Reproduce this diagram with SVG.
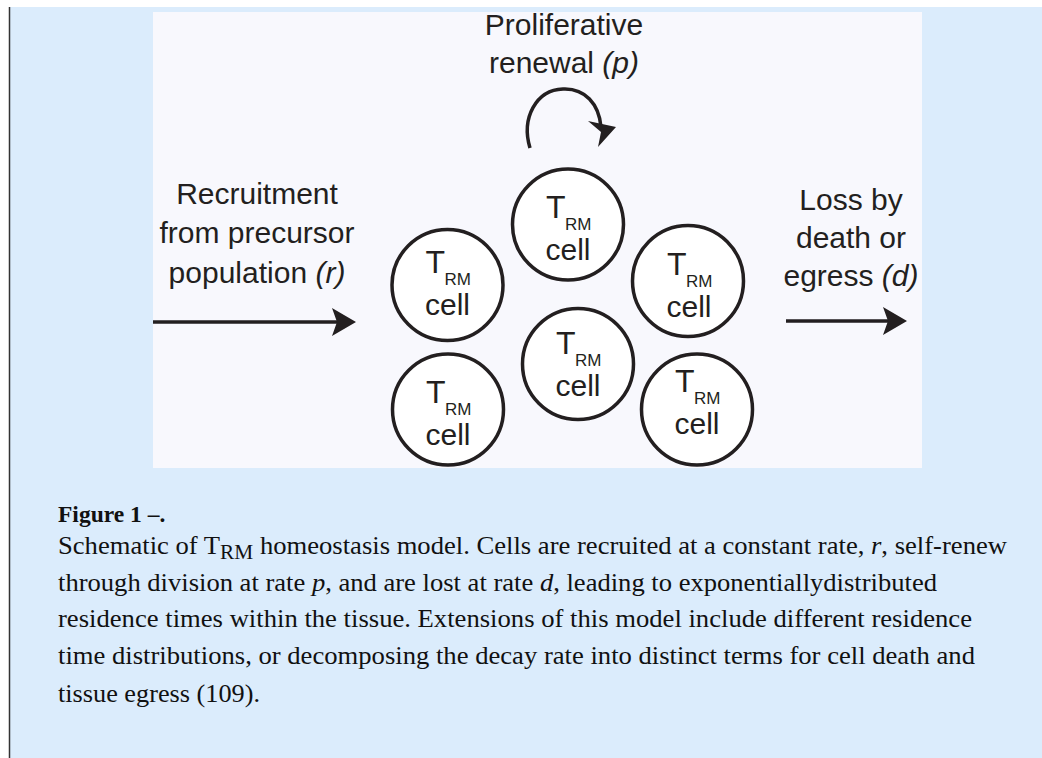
<svg xmlns="http://www.w3.org/2000/svg" width="1042" height="758" viewBox="0 0 1042 758">
  <style>
    .lbl { font-family: "Liberation Sans", Arial, sans-serif; font-size: 30px; fill: #231f20; }
    .tt { font-family: "Liberation Sans", Arial, sans-serif; font-size: 32px; fill: #231f20; }
    .big { font-family: "Liberation Sans", Arial, sans-serif; font-size: 30px; fill: #231f20; }
    .sub { font-family: "Liberation Sans", Arial, sans-serif; font-size: 17px; fill: #231f20; }
    .cellc { fill: #ffffff; stroke: #231f20; stroke-width: 3.5; }
    .conn { fill: none; stroke: #231f20; stroke-width: 3.5; }
    .cap { font-family: "Liberation Serif", "Times New Roman", serif; font-size: 25px; fill: #111111; }
    .capb { font-family: "Liberation Serif", "Times New Roman", serif; font-size: 23.5px; font-weight: bold; fill: #111111; }
  </style>
  <defs>
    <marker id="head" viewBox="0 0 24 28" refX="8" refY="14" markerWidth="24" markerHeight="28" markerUnits="userSpaceOnUse" orient="auto">
      <path d="M0,0 L24,14 L0,28 L5,14 Z" fill="#231f20"/>
    </marker>
  </defs>
  <rect x="0" y="0" width="1042" height="758" fill="#ffffff"/>
  <rect x="10" y="7" width="1032" height="751" fill="#dbecfc"/>
  <line x1="9.5" y1="7" x2="9.5" y2="758" stroke="#333333" stroke-width="1.5"/>
  <rect x="153" y="12" width="769" height="456" fill="#f8f8fd"/>

  <g id="label-proliferative">
    <text class="lbl" x="564" y="35" text-anchor="middle">Proliferative</text>
    <text class="lbl" x="564" y="73" text-anchor="middle">renewal <tspan font-style="italic">(p)</tspan></text>
  </g>
  <g id="label-recruitment">
    <text class="lbl" x="257" y="204" text-anchor="middle">Recruitment</text>
    <text class="lbl" x="257" y="243" text-anchor="middle">from precursor</text>
    <text class="lbl" x="257" y="283" text-anchor="middle">population <tspan font-style="italic">(r)</tspan></text>
  </g>
  <g id="label-loss">
    <text class="lbl" x="851" y="210" text-anchor="middle">Loss by</text>
    <text class="lbl" x="851" y="248" text-anchor="middle">death or</text>
    <text class="lbl" x="851" y="286" text-anchor="middle">egress <tspan font-style="italic">(d)</tspan></text>
  </g>

  <g id="connectors">
    <line class="conn" x1="153" y1="322" x2="340" y2="322" marker-end="url(#head)"/>
    <line class="conn" x1="786" y1="321" x2="891" y2="321" marker-end="url(#head)"/>
    <path class="conn" stroke-width="4" d="M530,148 C521,118 536,90 563,89 C585,88 599,104 601,127"/>
    <polygon points="588,121 616,127 598,147 601,132" fill="#231f20"/>
  </g>

  <g id="cell-top">
    <circle class="cellc" cx="568" cy="224.5" r="55.5"/>
    <text class="tt" x="546" y="218">T</text>
    <text class="sub" x="565" y="230">RM</text>
    <text class="big" x="568" y="260" text-anchor="middle">cell</text>
  </g>
  <g id="cell-left-upper">
    <circle class="cellc" cx="447.5" cy="285" r="55.5"/>
    <text class="tt" x="425.5" y="273">T</text>
    <text class="sub" x="444.5" y="285">RM</text>
    <text class="big" x="447.5" y="315" text-anchor="middle">cell</text>
  </g>
  <g id="cell-left-lower">
    <circle class="cellc" cx="448" cy="409.5" r="55.5"/>
    <text class="tt" x="426" y="403">T</text>
    <text class="sub" x="445" y="415">RM</text>
    <text class="big" x="448" y="445" text-anchor="middle">cell</text>
  </g>
  <g id="cell-middle">
    <circle class="cellc" cx="578" cy="364" r="55.5"/>
    <text class="tt" x="556" y="354">T</text>
    <text class="sub" x="575" y="366">RM</text>
    <text class="big" x="578" y="396" text-anchor="middle">cell</text>
  </g>
  <g id="cell-right-upper">
    <circle class="cellc" cx="688" cy="281" r="55.5"/>
    <text class="tt" x="667" y="275">T</text>
    <text class="sub" x="686" y="287">RM</text>
    <text class="big" x="689" y="317" text-anchor="middle">cell</text>
  </g>
  <g id="cell-right-lower">
    <circle class="cellc" cx="697" cy="409.5" r="55.5"/>
    <text class="tt" x="675" y="392">T</text>
    <text class="sub" x="694" y="404">RM</text>
    <text class="big" x="697" y="434" text-anchor="middle">cell</text>
  </g>

  <g id="caption">
    <text class="capb" x="58" y="522">Figure 1 –.</text>
    <text class="cap" x="58" y="554" textLength="949" lengthAdjust="spacingAndGlyphs">Schematic of T<tspan font-size="20" dy="5">RM</tspan><tspan dy="-5"> homeostasis model. Cells are recruited at a constant rate, </tspan><tspan font-style="italic">r</tspan>, self-renew</text>
    <text class="cap" x="58" y="591" textLength="879" lengthAdjust="spacingAndGlyphs">through division at rate <tspan font-style="italic">p</tspan>, and are lost at rate <tspan font-style="italic">d</tspan>, leading to exponentiallydistributed</text>
    <text class="cap" x="58" y="627" textLength="914" lengthAdjust="spacingAndGlyphs">residence times within the tissue. Extensions of this model include different residence</text>
    <text class="cap" x="58" y="664" textLength="917" lengthAdjust="spacingAndGlyphs">time distributions, or decomposing the decay rate into distinct terms for cell death and</text>
    <text class="cap" x="58" y="702" textLength="202" lengthAdjust="spacingAndGlyphs">tissue egress (109).</text>
  </g>
</svg>
